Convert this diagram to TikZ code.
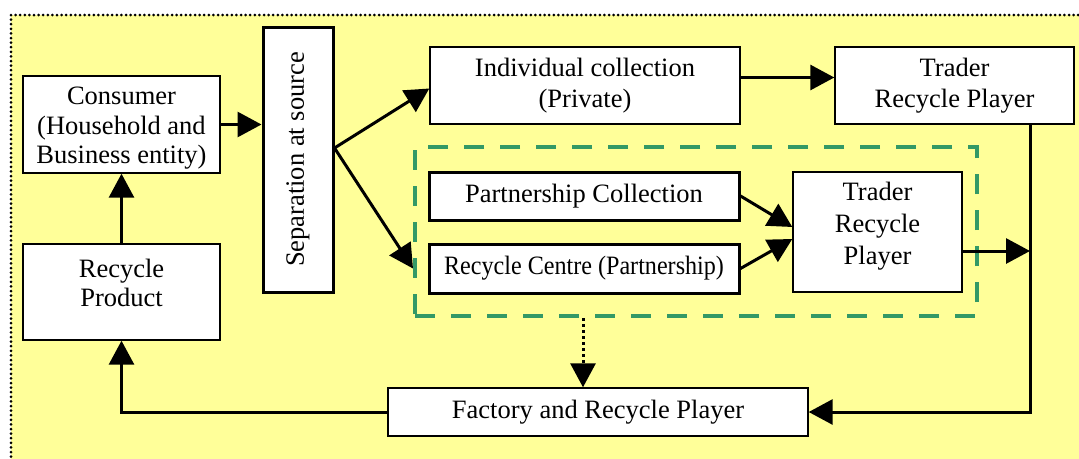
\documentclass[tikz,border=0pt]{standalone}
\usepackage{fontspec}
\setmainfont{Liberation Serif}
\usetikzlibrary{arrows.meta,calc}
\definecolor{bgyellow}{RGB}{255,255,153}
\definecolor{partgreen}{RGB}{51,153,102}
\newcommand{\boxfont}{\fontsize{26.5}{29.5}\selectfont}

\begin{document}
\begin{tikzpicture}[x=1pt,y=-1pt,
    box/.style={draw=black,fill=white,line width=1.4pt,align=center,inner sep=0pt,font=\boxfont},
    thickbox/.style={box,line width=3pt},
    boxtext/.style={align=center,inner sep=0pt,font=\boxfont},
    flow/.style={-{Triangle[length=24pt,width=25pt]},line width=3pt},
    dotflow/.style={flow,dash pattern=on 3pt off 3pt}]
    \useasboundingbox (0,0) rectangle (1079,458);
    % ===== Background: dotted frame =====
    \clip (0,0) rectangle (1079,458);
    \fill[bgyellow] (11,15) rectangle (1090,470);
    \foreach \i in {0,...,234} {\fill ({11+4.6*\i},15) circle (1.5);}
    \foreach \i in {1,...,97} {\fill (11,{15+4.6*\i}) circle (1.5);}
    % ===== Left column =====
    \node[box,minimum width=197,minimum height=97] (consumer) at (121.5,124.5) {};
    \node[boxtext] (consumertxt) at ([yshift=-4pt]consumer.center) {Consumer\\(Household and\\Business entity)};
    \node[box,minimum width=197,minimum height=96] (recprod) at (121.5,292) {};
    \node[boxtext] (recprodtxt) at ([yshift=9pt]recprod.center) {Recycle\\Product};
    \node[thickbox,minimum width=70,minimum height=265] (sep) at (298,159.5) {\rotatebox{90}{Separation at source}};
    % ===== Collection paths =====
    \node[box,minimum width=310,minimum height=77] (indiv) at (585,85.5) {Individual collection\\[2pt](Private)};
    \node[box,minimum width=239,minimum height=77] (trader) at (954.5,85.5) {Trader\\[2pt]Recycle Player};
    \node[draw=partgreen,line width=4pt,dash pattern=on 20pt off 16pt,minimum width=562,minimum height=169,inner sep=0pt] (partner) at (696,231.5) {};
    \node[thickbox,minimum width=310,minimum height=48] (partcol) at (584,196) {Partnership Collection};
    \node[thickbox,minimum width=310,minimum height=49] (reccentre) at (584,268.5) {\scalebox{0.91}[1]{Recycle Centre (Partnership)}};
    \node[box,minimum width=169,minimum height=120] (trader2) at (877.5,232) {};
    \node[boxtext] (trader2txt) at ([yshift=6pt]trader2.center) {Trader\\[2.5pt]Recycle\\[2.5pt]Player};
    \node[box,minimum width=420,minimum height=48] (factory) at (598,412) {Factory and Recycle Player};
    \coordinate (fork) at ([yshift=11.5pt]sep.east);
    \coordinate (rail) at ([xshift=75.5pt]trader.south);
    \coordinate (dropx) at (583,0);
    % ===== Connectors =====
    \draw[flow] (consumer.east) -- (consumer.east -| sep.west);
    \draw[flow] (fork) -- ([yshift=-3pt]indiv.west);
    \draw[flow] (fork) -- (partner.west |- reccentre.west);
    \draw[flow] ([yshift=8pt]indiv.east) -- ([yshift=8pt]trader.west);
    \draw[flow] (partcol.east) -- ([yshift=5pt]trader2.west);
    \draw[flow] (reccentre.east) -- ([yshift=-7pt]trader2.west);
    \draw[flow] ([yshift=-19pt]trader2.east) -- ([yshift=-19pt]trader2.east -| rail);
    \draw[flow] (rail) |- (factory.east);
    \draw[flow] (factory.west) -| (recprod.south);
    \draw[flow] (recprod.north) -- (consumer.south);
    \draw[dotflow] (partner.south -| dropx) -- (factory.north -| dropx);
\end{tikzpicture}
\end{document}
